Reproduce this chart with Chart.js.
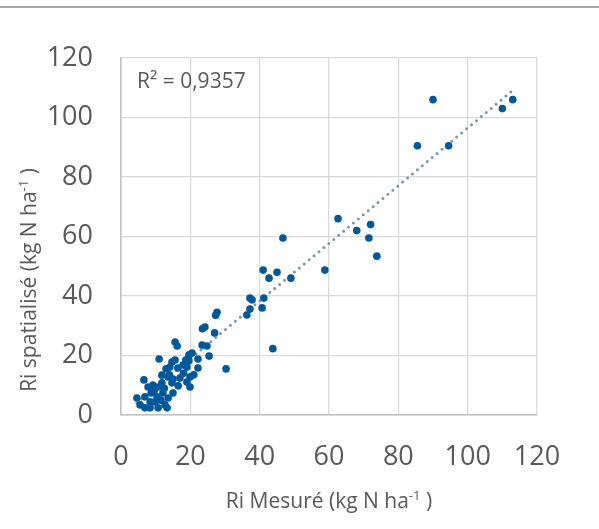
<!DOCTYPE html>
<html>
<head>
<meta charset="utf-8">
<script src="https://cdn.jsdelivr.net/npm/chart.js@4"></script>
<style>
  html, body { margin: 0; padding: 0; background: #fff; }
  #wrap { width: 599px; height: 529px; position: relative; }
</style>
</head>
<body>
<div id="wrap"><canvas id="chart"></canvas></div>
<script>
// Ri mesuré vs Ri spatialisé (kg N/ha)
const measured = [
  113, 110, 90, 85.5, 94.5,
  62.6, 72, 68, 71.5, 73.8, 46.7, 58.8, 41, 45, 42.7, 49,
  37.2, 37.8, 41.2, 37.2, 40.7, 36.3, 43.8,
  30.3, 27.7, 27.3, 24.2, 23.5, 27, 23.4, 25.4, 20.5, 19.6, 22.2, 18.7, 19, 22.2,
  15.6, 16.2, 11, 14.7, 15.6, 19.6, 13, 14.1, 16.4, 17.9, 11.8, 13.6, 15, 17, 19, 19.9,
  6.6, 7.8, 9.2, 10.7, 11.8, 15, 8.7, 12.1, 4.6, 6.9, 10.4, 13.6, 5.5, 6.9, 8.4, 9.8,
  10.7, 12.7, 13.3, 8.4, 11.5, 24.8, 16.5, 12.5, 18, 21, 9.5, 14, 19.9, 14.7
];
const spatialised = [
  106, 103, 106, 90.5, 90.5,
  66, 64, 62, 59.5, 53.4, 59.5, 48.7, 48.7, 48, 46, 46,
  39.3, 38.7, 39.3, 35.6, 36, 33.6, 22.3,
  15.5, 34.5, 33.5, 29.6, 29, 27.6, 23.5, 19.8, 20.8, 20.2, 18.8, 18.5, 16.1, 15.8,
  24.5, 23.2, 18.8, 17.8, 18.5, 18.2, 15.5, 16.1, 15.8, 16.8, 13.4, 12.8, 12.1, 12.4, 11.1, 9.4,
  11.8, 9.4, 10.1, 9.4, 10.8, 7.4, 7.4, 7.4, 5.7, 6.1, 6.1, 5.7, 3.4, 2.4, 2.4, 4.4,
  2.4, 3.4, 2.4, 4.4, 5, 23.2, 9.8, 9, 14, 13.5, 8, 13.5, 12.8, 10.8
];

// linear trendline, endpoints
const trendX = [4.6, 112.5];
const trendY = [4.0, 108.6];

const xTicks = [0, 20, 40, 60, 80, 100, 120];
const yTicks = [0, 20, 40, 60, 80, 100, 120];
const r2Label = 'R² = 0,9357';

const textGrey = '#595959';
const fontFamily = "'Open Sans', 'Noto Sans', sans-serif";

// draw a string with a superscript part
function drawRich(ctx, parts, x, y, size) {
  let total = 0;
  parts.forEach(p => {
    ctx.font = (p.sup ? size * 0.62 : size) + 'px ' + fontFamily;
    p.w = ctx.measureText(p.t).width;
    total += p.w;
  });
  let cx = x - total / 2;
  parts.forEach(p => {
    ctx.font = (p.sup ? size * 0.62 : size) + 'px ' + fontFamily;
    ctx.fillText(p.t, cx, p.sup ? y - size * 0.38 : y);
    cx += p.w;
  });
}

const decorations = {
  id: 'decorations',
  beforeDraw(chart) {
    const ctx = chart.ctx;
    ctx.save();
    ctx.fillStyle = '#fff';
    ctx.fillRect(0, 0, chart.width, chart.height);
    ctx.strokeStyle = '#a6a6a6';
    ctx.lineWidth = 2;
    ctx.beginPath();
    ctx.moveTo(0, 7);
    ctx.lineTo(chart.width, 7);
    ctx.stroke();
    ctx.restore();
  },
  afterDraw(chart) {
    const ctx = chart.ctx;
    const area = chart.chartArea;
    ctx.save();
    ctx.fillStyle = textGrey;
    ctx.textBaseline = 'alphabetic';
    ctx.textAlign = 'left';

    // R² label
    ctx.font = '21px ' + fontFamily;
    ctx.fillText(r2Label, area.left + 16, area.top + 30);

    // x title
    drawRich(ctx, [{ t: 'Ri Mesuré (kg N ha' }, { t: '-1', sup: true }, { t: ' )' }],
      (area.left + area.right) / 2, 508, 21);

    // y title
    ctx.translate(36, 280);
    ctx.rotate(-Math.PI / 2);
    drawRich(ctx, [{ t: 'Ri spatialisé (kg N ha' }, { t: '-1', sup: true }, { t: ' )' }],
      0, 0, 21);
    ctx.restore();
  }
};

const axisCommon = {
  type: 'linear',
  min: 0,
  max: 120,
  grid: { color: '#d9d9d9', lineWidth: 1.2, drawTicks: false },
  border: { color: '#bfbfbf', width: 1.5 },
  ticks: {
    stepSize: 20,
    color: textGrey,
    font: { family: fontFamily, size: 27 }
  }
};

new Chart(document.getElementById('chart'), {
  type: 'scatter',
  data: {
    datasets: [
      {
        label: 'Ri',
        data: measured.map((x, i) => ({ x: x, y: spatialised[i] })),
        backgroundColor: '#03589b',
        borderColor: '#03589b',
        borderWidth: 0,
        pointRadius: 3.8,
        pointHoverRadius: 3.8
      },
      {
        label: 'Linéaire',
        type: 'line',
        data: trendX.map((x, i) => ({ x: x, y: trendY[i] })),
        borderColor: '#7b97a7',
        borderWidth: 3,
        borderDash: [0, 6.4],
        borderCapStyle: 'round',
        pointRadius: 0,
        fill: false
      }
    ]
  },
  options: {
    responsive: true,
    maintainAspectRatio: false,
    animation: false,
    events: [],
    layout: { padding: { top: 58, right: 62, left: 0, bottom: 0 } },
    plugins: {
      legend: { display: false },
      tooltip: { enabled: false }
    },
    scales: {
      x: {
        ...axisCommon,
        position: 'bottom',
        ticks: { ...axisCommon.ticks, padding: 26, maxRotation: 0,
          callback: v => xTicks.includes(v) ? String(v) : '' },
        afterFit: s => { s.height = 114; }
      },
      y: {
        ...axisCommon,
        position: 'left',
        ticks: { ...axisCommon.ticks, padding: 28,
          callback: v => yTicks.includes(v) ? String(v) : '' },
        afterFit: s => { s.width = 121; }
      }
    }
  },
  plugins: [decorations]
});
</script>
</body>
</html>
